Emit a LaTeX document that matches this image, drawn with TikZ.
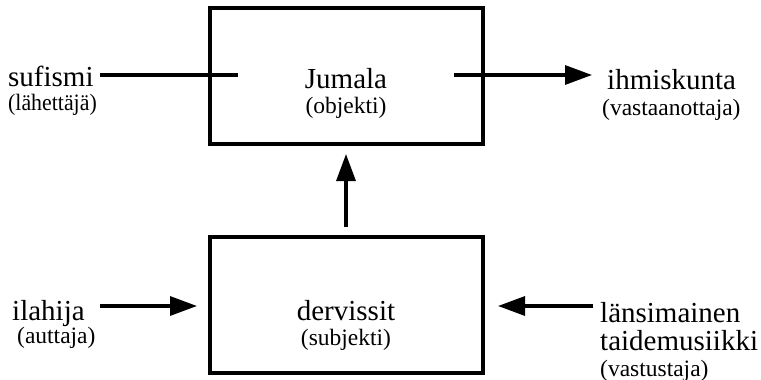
\documentclass[tikz,border=0pt]{standalone}
\usepackage{fontspec}
\setmainfont{Liberation Serif}
\usetikzlibrary{arrows.meta}
\begin{document}
\begin{tikzpicture}[x=1pt,y=-1pt,
  box/.style={draw,line width=3.2pt,minimum width=273pt,minimum height=136pt,inner sep=0pt},
  big/.style={inner sep=0pt,font=\fontsize{29}{30}\selectfont},
  small/.style={inner sep=0pt,font=\fontsize{23.5}{25}\selectfont},
  conn/.style={line width=3.2pt},
  arr/.style={conn,-{Triangle[length=27pt,width=19pt]}}]
\useasboundingbox (0,0) rectangle (761,380);
% boxes
\node[box] (top) at (346.5,76) {};
\node[box] (bot) at (346.5,305) {};
% box labels
\node[big,anchor=base] (jum) at (346,88) {Jumala};
\node[small,anchor=base] (obj) at (346,113) {(objekti)};
\node[big,anchor=base] (der) at (346,320) {dervissit};
\node[small,anchor=base] (sub) at (346,345) {(subjekti)};
% outer labels
\node[big,anchor=base west] (suf) at (8,86) {sufismi};
\node[small,anchor=base west,xscale=0.93] (lah) at (8,110) {(lähettäjä)};
\node[big,anchor=base west] (ihm) at (607,89) {ihmiskunta};
\node[small,anchor=base west] (vas) at (602,115) {(vastaanottaja)};
\node[big,anchor=base west] (ila) at (12,320) {ilahija};
\node[small,anchor=base west] (aut) at (17,343) {(auttaja)};
\node[big,anchor=base west] (lan) at (600,322) {länsimainen};
\node[big,anchor=base west] (tai) at (600,350) {taidemusiikki};
\node[small,anchor=base west] (vst) at (600,376) {(vastustaja)};
% connector end points
\coordinate (sufA) at (100,75);
\coordinate (sufB) at (238,75);
\coordinate (ihmA) at (454,75);
\coordinate (ihmB) at (592,75);
\coordinate (ilaA) at (100,306);
\coordinate (ilaB) at (197,306);
\coordinate (lanA) at (593,306);
\coordinate (lanB) at (498,306);
\coordinate (upA) at (346,227);
\coordinate (upB) at (346,154);
% connectors
\draw[conn] (sufA) -- (sufB);
\draw[arr] (ihmA) -- (ihmB);
\draw[arr] (ilaA) -- (ilaB);
\draw[arr] (lanA) -- (lanB);
\draw[arr] (upA) -- (upB);
\end{tikzpicture}
\end{document}
